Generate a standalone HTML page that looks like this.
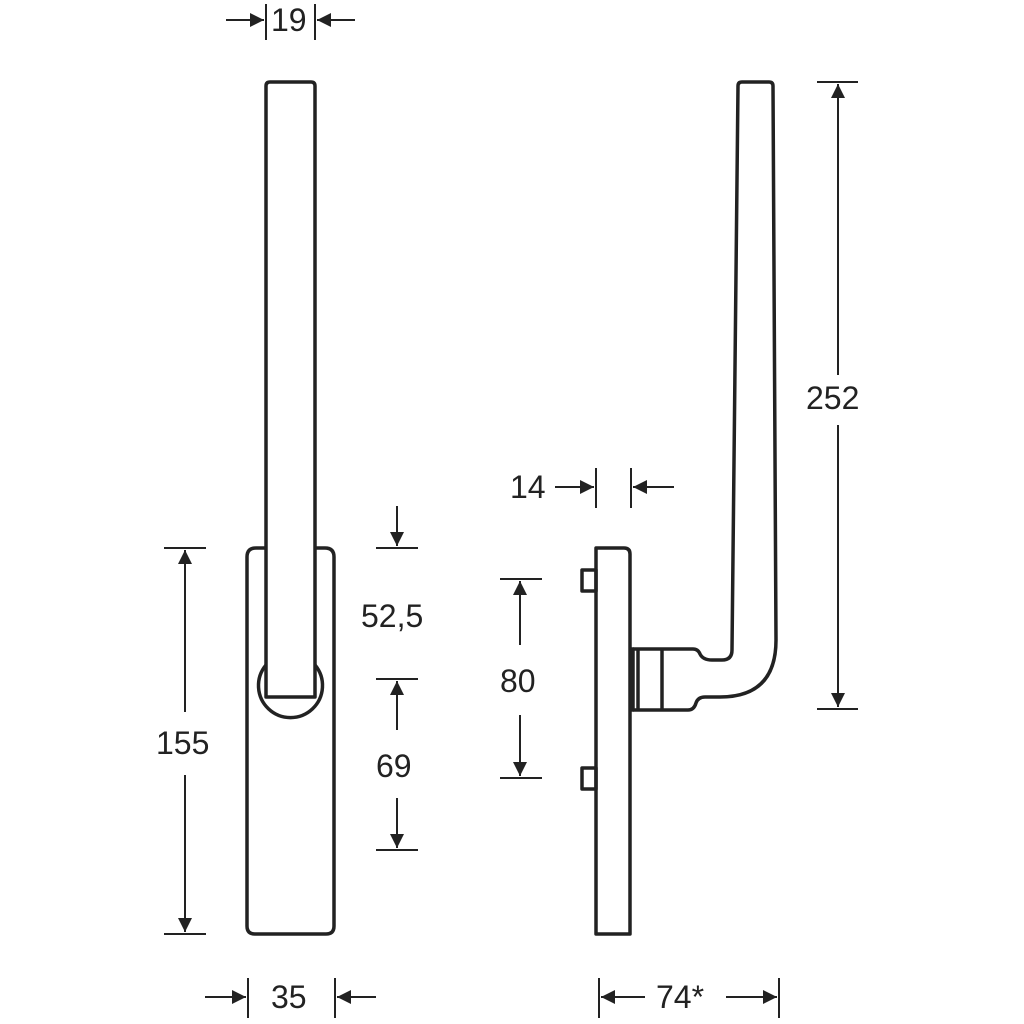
<!DOCTYPE html>
<html><head><style>
html,body{margin:0;padding:0;background:#fff;}
svg{display:block}
text{font-family:"Liberation Sans",Arial,sans-serif;font-size:32px;fill:#222;}
</style></head><body>
<svg width="1024" height="1024" viewBox="0 0 1024 1024" xmlns="http://www.w3.org/2000/svg">
<defs>
<marker id="a" viewBox="0 0 10 10" refX="10" refY="5" markerWidth="16" markerHeight="14" markerUnits="userSpaceOnUse" orient="auto"><path d="M0,0L10,5L0,10z" fill="#222"/></marker>
</defs>
<g fill="none" stroke="#222" stroke-width="3.5" stroke-linejoin="round">
<path d="M256,548 H266 M315,548 H325 Q334,548 334,557 V926 Q334,934 326,934 H255 Q247,934 247,926 V557 Q247,548 256,548"/>
<path d="M266,697 V86 Q266,82 270,82 H311 Q315,82 315,86 V697 Z"/>
<path d="M266,665 A32,32 0 1 0 315,665"/>
<path d="M600,548 H624 Q630,548 630,554 V934 H596 V548 Z"/>
<rect x="582" y="570" width="14" height="21"/>
<rect x="582" y="768" width="14" height="21"/>
<path d="M630,649 H633 V710 H630"/>
<line x1="638" y1="649" x2="638" y2="710"/>
<line x1="662" y1="649" x2="662" y2="710"/>
<path d="M633,649 H693 Q698,649 700,654 Q703,660 712,660 H722 Q732,660 732,650 L738,86 Q738,82 742,82 H769 Q773,82 773,86 L776,640 Q776,697 720,697 H705 Q698,697 696,703 Q694,710 688,710 H633"/>
</g>
<g stroke="#222" stroke-width="2">
<line x1="266" y1="4" x2="266" y2="40"/><line x1="315" y1="4" x2="315" y2="40"/>
<line x1="226" y1="20" x2="264" y2="20" marker-end="url(#a)"/>
<line x1="355" y1="20" x2="317" y2="20" marker-end="url(#a)"/>
<line x1="164" y1="548" x2="206" y2="548"/><line x1="164" y1="934" x2="206" y2="934"/>
<line x1="185" y1="712" x2="185" y2="550" marker-end="url(#a)"/>
<line x1="185" y1="775" x2="185" y2="932" marker-end="url(#a)"/>
<line x1="376" y1="548" x2="418" y2="548"/><line x1="376" y1="679" x2="418" y2="679"/><line x1="376" y1="850" x2="418" y2="850"/>
<line x1="397" y1="506" x2="397" y2="546" marker-end="url(#a)"/>
<line x1="397" y1="730" x2="397" y2="681" marker-end="url(#a)"/>
<line x1="397" y1="798" x2="397" y2="848" marker-end="url(#a)"/>
<line x1="248" y1="978" x2="248" y2="1018"/><line x1="335" y1="978" x2="335" y2="1018"/>
<line x1="205" y1="997" x2="246" y2="997" marker-end="url(#a)"/>
<line x1="376" y1="997" x2="337" y2="997" marker-end="url(#a)"/>
<line x1="596" y1="468" x2="596" y2="508"/><line x1="631" y1="468" x2="631" y2="508"/>
<line x1="555" y1="487" x2="594" y2="487" marker-end="url(#a)"/>
<line x1="674" y1="487" x2="633" y2="487" marker-end="url(#a)"/>
<line x1="500" y1="579" x2="542" y2="579"/><line x1="500" y1="778" x2="542" y2="778"/>
<line x1="520" y1="645" x2="520" y2="581" marker-end="url(#a)"/>
<line x1="520" y1="715" x2="520" y2="776" marker-end="url(#a)"/>
<line x1="817" y1="82" x2="858" y2="82"/><line x1="817" y1="709" x2="858" y2="709"/>
<line x1="838" y1="375" x2="838" y2="84" marker-end="url(#a)"/>
<line x1="838" y1="425" x2="838" y2="707" marker-end="url(#a)"/>
<line x1="599" y1="978" x2="599" y2="1018"/><line x1="779" y1="978" x2="779" y2="1018"/>
<line x1="645" y1="997" x2="601" y2="997" marker-end="url(#a)"/>
<line x1="726" y1="997" x2="777" y2="997" marker-end="url(#a)"/>
</g>
<text x="271" y="31">19</text>
<text x="156" y="754">155</text>
<text x="361" y="627">52,5</text>
<text x="376" y="777">69</text>
<text x="271" y="1008">35</text>
<text x="510" y="498">14</text>
<text x="500" y="692">80</text>
<text x="806" y="409">252</text>
<text x="656" y="1008">74*</text>
</svg>
</body></html>
